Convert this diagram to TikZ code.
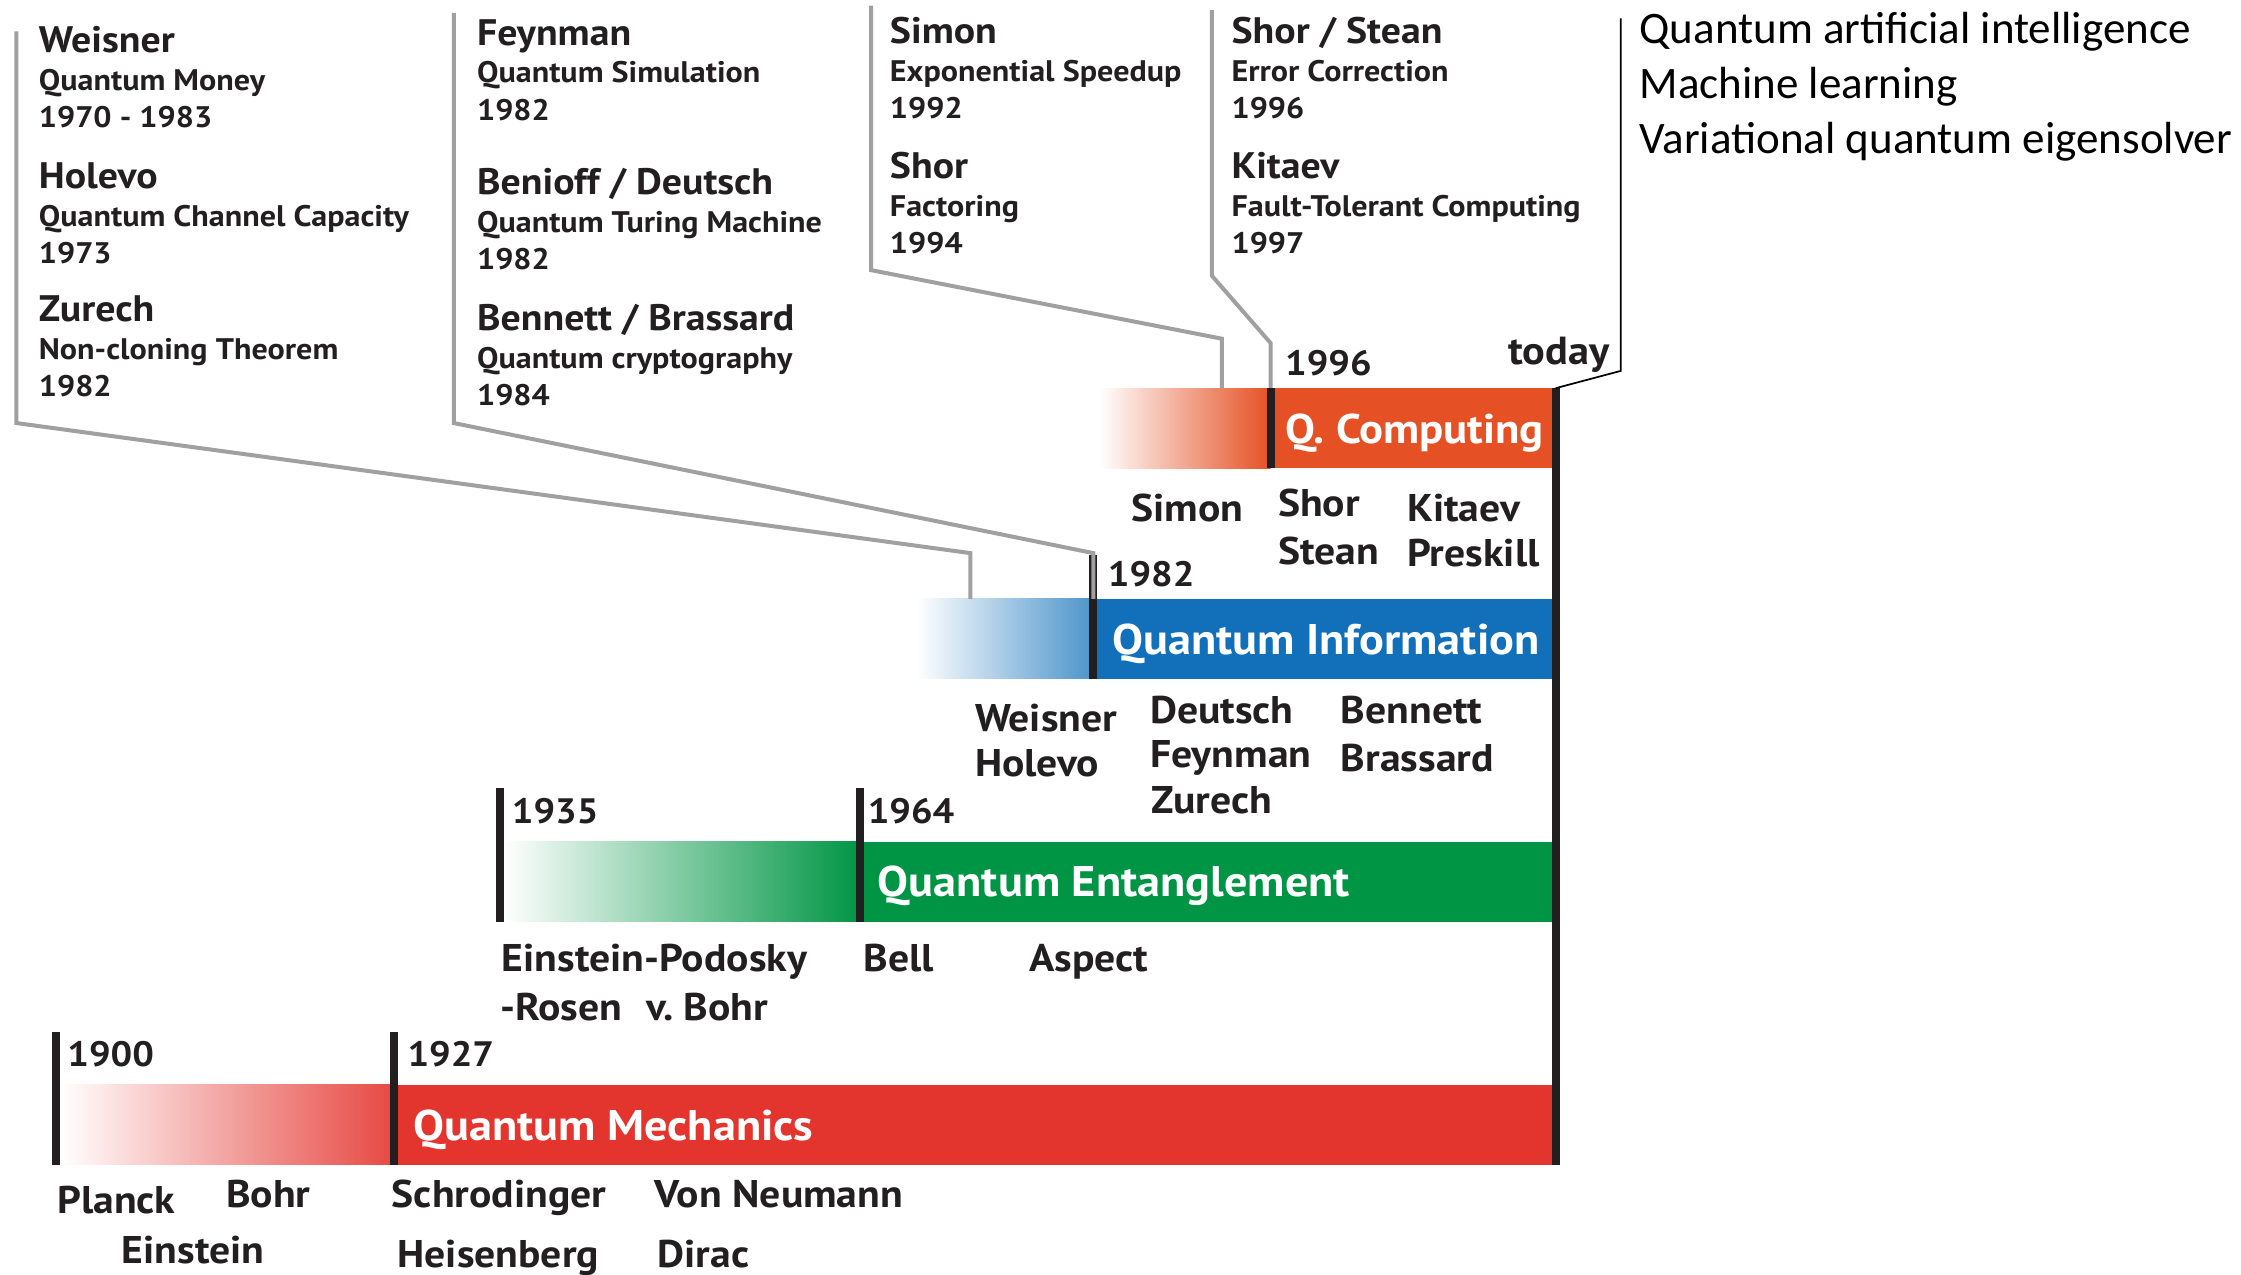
\documentclass[tikz,border=0pt]{standalone}
\usepackage{fontspec}
\setmainfont{PT Sans}[FakeStretch=1.08]
\newfontfamily\trendfont{Carlito}

\definecolor{ink}{HTML}{231F20}
\definecolor{qmred}{HTML}{E4342E}
\definecolor{qegreen}{HTML}{009544}
\definecolor{qiblue}{HTML}{1170B9}
\definecolor{qcorange}{HTML}{E55024}
\definecolor{calloutgray}{HTML}{A0A0A0}

\tikzset{
  txt/.style={anchor=base west, inner sep=0pt, text=ink},
  who/.style={txt, font=\bfseries\fontsize{25.8}{30}\selectfont},
  what/.style={txt, font=\bfseries\fontsize{20.8}{24}\selectfont},
  scientist/.style={txt, font=\bfseries\fontsize{27}{32}\selectfont},
  stamp/.style={txt, font=\bfseries\fontsize{24.7}{28}\selectfont},
  bandtext/.style={txt, text=white, font=\bfseries\fontsize{30}{36}\selectfont},
  trend/.style={anchor=base west, inner sep=0pt, font=\trendfont\fontsize{31.5}{36}\selectfont},
  bar/.style={line width=5.6pt, draw=ink},
  callout/.style={line width=2.8pt, draw=calloutgray},
}

% one callout entry: name, x, baseline, person, topic, year
\newcommand{\milestone}[6]{%
  \node[who] (#1) at (#2,#3) {#4};
  \node[what] (#1-topic) at (#2,#3+26.5) {#5};
  \node[what] (#1-year) at (#2,#3+52.5) {#6};
}

\begin{document}
\begin{tikzpicture}[x=1pt, y=-1pt]
  \useasboundingbox (0,0) rectangle (1568,892);

  % bands
  \shade[left color=white, right color=qmred!90] (42,759) rectangle (276,815);
  \fill[qmred] (276,759) rectangle (1086,815);
  \shade[left color=white, right color=qegreen] (352,589) rectangle (602,645);
  \fill[qegreen] (602,589) rectangle (1086,645);
  \shade[left color=white, right color=qiblue!75] (641,419) rectangle (765,475);
  \fill[qiblue] (765,419) rectangle (1086,475);
  \shade[left color=white, right color=qcorange] (769,271.6) rectangle (889,327.6);
  \fill[qcorange] (889,271.6) rectangle (1086,327.6);

  % callouts
  \coordinate (qi-hook) at (679,419);
  \coordinate (qi-start) at (765,419);
  \coordinate (qc-hook) at (855,271.6);
  \coordinate (qc-start) at (889,271.6);
  \draw[bar] (765,388) -- (765,475);
  \draw[callout] (11.5,22) -- (11.5,296) -- (679,387) -- (qi-hook);
  \draw[callout] (317.5,9) -- (317.5,296) -- (765,387) -- (qi-start);
  \draw[callout] (609.5,4) -- (609.5,189) -- (855,237) -- (qc-hook);
  \draw[callout] (848,7) -- (848,193) -- (889,240) -- (qc-start);

  % year bars
  \draw[bar] (39,722) -- (39,815);
  \draw[bar] (276,722) -- (276,815);
  \draw[bar] (350,551.5) -- (350,645);
  \draw[bar] (602,551.5) -- (602,645);
  \draw[bar] (889,271.6) -- (889,327.6);
  \draw[bar] (1088.5,271.6) coordinate (today-top) -- (1088.5,815);
  \draw[line width=1.2pt] (today-top) -- (1134,259.5) -- (1134,12.8);

  % callout texts
  \milestone{weisner}{27}{37}{Weisner}{Quantum Money}{1970 - 1983}
  \milestone{holevo}{27}{132}{Holevo}{Quantum Channel Capacity}{1973}
  \milestone{zurech}{27}{225}{Zurech}{Non-cloning Theorem}{1982}
  \milestone{feynman}{333.6}{31.5}{Feynman}{Quantum Simulation}{1982}
  \milestone{benioff}{333.6}{136.4}{Benioff / Deutsch}{Quantum Turing Machine}{1982}
  \milestone{bennett}{333.6}{231}{Bennett / Brassard}{Quantum cryptography}{1984}
  \milestone{simon}{622.5}{30.3}{Simon}{Exponential Speedup}{1992}
  \milestone{shor}{622.5}{125}{Shor}{Factoring}{1994}
  \milestone{stean}{861.5}{30.3}{Shor / Stean}{Error Correction}{1996}
  \milestone{kitaev}{861.5}{125}{Kitaev}{Fault-Tolerant Computing}{1997}

  \node[trend] (qai) at (1147,30.3) {Quantum artificial intelligence};
  \node[trend] (ml) at (1147,68.8) {Machine learning};
  \node[trend] (vqe) at (1147,107.3) {Variational quantum eigensolver};

  % years
  \node[stamp] (y1900) at (47,746) {1900};
  \node[stamp] (y1927) at (285,746) {1927};
  \node[stamp] (y1935) at (358,576) {1935};
  \node[stamp] (y1964) at (607,576) {1964};
  \node[stamp] (y1982) at (775,410.6) {1982};
  \node[stamp] (y1996) at (899,262.4) {1996};
  \node[stamp, font=\bfseries\fontsize{27.4}{32}\selectfont] (today) at (1055,255) {today};

  % band names
  \node[bandtext] (qm) at (289,797.7) {Quantum Mechanics};
  \node[bandtext] (qe) at (614,627.6) {Quantum Entanglement};
  \node[bandtext] (qi) at (778,458) {Quantum Information};
  \node[bandtext, font=\bfseries\fontsize{29}{34}\selectfont] (qc) at (899,310) {Q. Computing};

  % people
  \node[scientist] (planck) at (40,849) {Planck};
  \node[scientist] (bohr) at (158,845) {Bohr};
  \node[scientist] (einstein) at (85,884) {Einstein};
  \node[scientist] (schrodinger) at (274,845) {Schrodinger};
  \node[scientist] (heisenberg) at (278,887) {Heisenberg};
  \node[scientist] (neumann) at (458,845) {Von Neumann};
  \node[scientist] (dirac) at (460,887) {Dirac};
  \node[scientist] (epr) at (351,680) {Einstein-Podosky};
  \node[scientist] (rosen) at (350,714) {-Rosen};
  \node[scientist] (vbohr) at (452,714) {v.~Bohr};
  \node[scientist] (bell) at (604,680) {Bell};
  \node[scientist] (aspect) at (720,680) {Aspect};
  \node[scientist] (n-weisner) at (682,512) {Weisner};
  \node[scientist] (n-holevo) at (682,543.5) {Holevo};
  \node[scientist] (n-deutsch) at (804.5,506) {Deutsch};
  \node[scientist] (n-feynman) at (804.5,537) {Feynman};
  \node[scientist] (n-zurech) at (805.5,569.5) {Zurech};
  \node[scientist] (n-bennett) at (938,506) {Bennett};
  \node[scientist] (n-brassard) at (938,539.5) {Brassard};
  \node[scientist] (n-simon) at (791.6,365) {Simon};
  \node[scientist] (n-shor) at (894,361.5) {Shor};
  \node[scientist] (n-stean) at (894,395) {Stean};
  \node[scientist] (n-kitaev) at (984.5,365) {Kitaev};
  \node[scientist] (n-preskill) at (984.5,396.5) {Preskill};
\end{tikzpicture}
\end{document}
